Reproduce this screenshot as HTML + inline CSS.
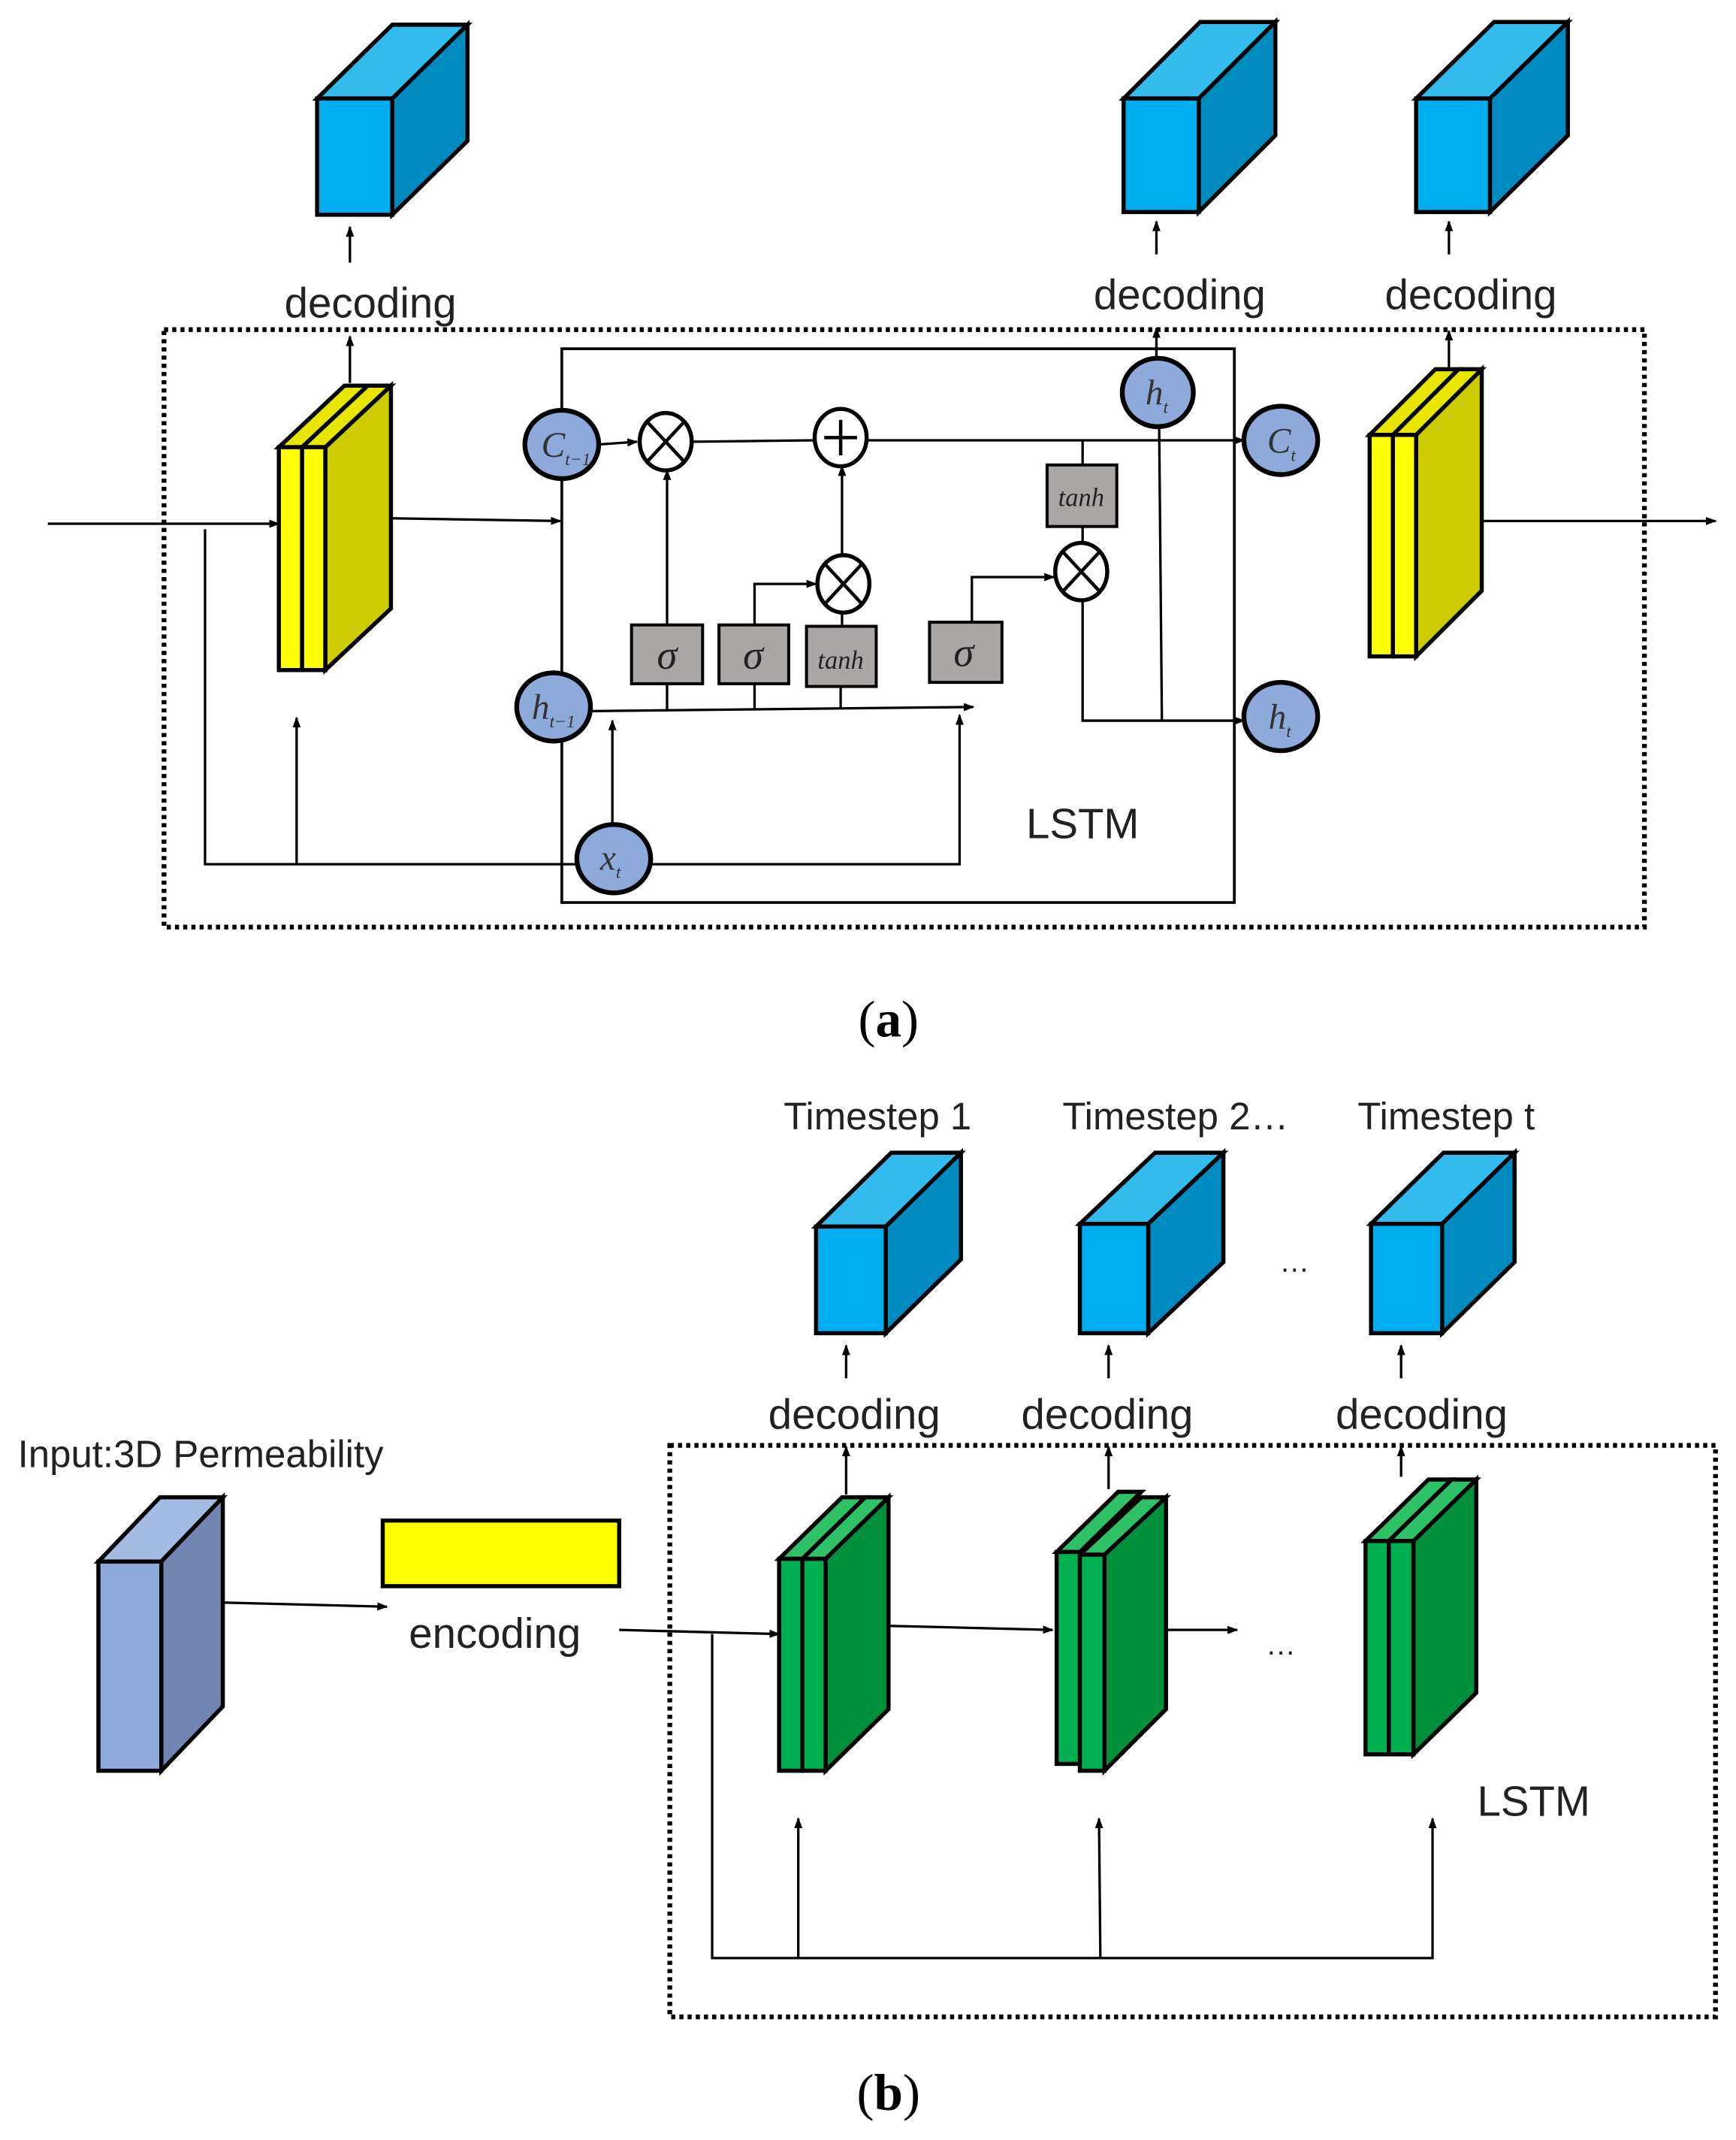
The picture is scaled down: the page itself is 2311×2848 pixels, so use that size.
<!DOCTYPE html>
<html><head><meta charset="utf-8"><style>html,body{margin:0;padding:0;background:#fff}svg{display:block}</style></head>
<body>
<svg width="2311" height="2848" viewBox="0 0 1270 1565" xmlns="http://www.w3.org/2000/svg" font-family="Liberation Sans, sans-serif">
<defs>
<marker id="ar" markerWidth="8" markerHeight="8" refX="7" refY="4" orient="auto" markerUnits="userSpaceOnUse"><path d="M0,1 L8,4 L0,7 z" fill="#000"/></marker>
</defs>
<rect width="1270" height="1565" fill="#fff"/>
<g stroke="#000" stroke-width="3" stroke-linejoin="miter">
<!-- cubes a -->
<polygon points="232,72 287,18 342,18 287,72" fill="#33bbee"/><polygon points="287,72 342,18 342,103 287,157" fill="#008bc0"/><rect x="232" y="72" width="55" height="85" fill="#00aeef"/>
<polygon points="822,72 878,16 933,16 877,72" fill="#33bbee"/><polygon points="877,72 933,16 933,99 877,155" fill="#008bc0"/><rect x="822" y="72" width="55" height="83" fill="#00aeef"/>
<polygon points="1036,72 1093,16 1147,16 1090,72" fill="#33bbee"/><polygon points="1090,72 1147,16 1147,99 1090,155" fill="#008bc0"/><rect x="1036" y="72" width="54" height="83" fill="#00aeef"/>
<!-- cubes b -->
<polygon points="597,897 652,843 703,843 648,897" fill="#33bbee"/><polygon points="648,897 703,843 703,921 648,975" fill="#008bc0"/><rect x="597" y="897" width="51" height="78" fill="#00aeef"/>
<polygon points="790,895 845,843 895,843 840,895" fill="#33bbee"/><polygon points="840,895 895,843 895,923 840,975" fill="#008bc0"/><rect x="790" y="895" width="50" height="80" fill="#00aeef"/>
<polygon points="1003,895 1056,843 1108,843 1055,895" fill="#33bbee"/><polygon points="1055,895 1108,843 1108,923 1055,975" fill="#008bc0"/><rect x="1003" y="895" width="52" height="80" fill="#00aeef"/>
<!-- input cube -->
<polygon points="72,1142 117,1095 163,1095 118,1142" fill="#a4bbe4"/><polygon points="118,1142 163,1095 163,1248 118,1295" fill="#7086b0"/><rect x="72" y="1142" width="46" height="153" fill="#8eaadb"/>
<!-- yellow a1 -->
<polygon points="238,327 286,282 286,445 238,490" fill="#cccc00"/>
<polygon points="204,327 252,282 269,282 221,327" fill="#e6e600"/><polygon points="221,327 269,282 286,282 238,327" fill="#e6e600"/>
<rect x="204" y="327" width="17" height="163" fill="#ffff00"/><rect x="221" y="327" width="17" height="163" fill="#ffff00"/>
<!-- yellow a2 -->
<polygon points="1036,318 1084,270 1084,432 1036,480" fill="#cccc00"/>
<polygon points="1002,318 1050,270 1067,270 1019,318" fill="#e6e600"/><polygon points="1019,318 1067,270 1084,270 1036,318" fill="#e6e600"/>
<rect x="1002" y="318" width="17" height="162" fill="#ffff00"/><rect x="1019" y="318" width="17" height="162" fill="#ffff00"/>
<!-- green b1 -->
<polygon points="604,1140 650,1095 650,1250 604,1295" fill="#00903c"/>
<polygon points="570,1140 616,1095 633,1095 587,1140" fill="#2ec167"/><polygon points="587,1140 633,1095 650,1095 604,1140" fill="#2ec167"/>
<rect x="570" y="1140" width="17" height="155" fill="#00b050"/><rect x="587" y="1140" width="17" height="155" fill="#00b050"/>
<!-- green b2 -->
<polygon points="808,1137 853,1095 853,1250 808,1295" fill="#00903c"/>
<polygon points="773,1135 818,1091 835,1091 790,1135" fill="#2ec167"/><polygon points="790,1137 835,1095 853,1095 808,1137" fill="#2ec167"/>
<rect x="773" y="1135" width="17" height="155" fill="#00b050"/><rect x="790" y="1137" width="18" height="158" fill="#00b050"/>
<!-- green b3 -->
<polygon points="1034,1127 1080,1082 1080,1238 1034,1283" fill="#00903c"/>
<polygon points="999,1127 1045,1082 1062,1082 1016,1127" fill="#2ec167"/><polygon points="1016,1127 1062,1082 1080,1082 1034,1127" fill="#2ec167"/>
<rect x="999" y="1127" width="17" height="156" fill="#00b050"/><rect x="1016" y="1127" width="18" height="156" fill="#00b050"/>
<!-- yellow encoding rect -->
<rect x="280" y="1112" width="173" height="48" fill="#ffff00"/>
</g>
<!-- dotted boxes -->
<rect x="120" y="241" width="1083" height="437" fill="none" stroke="#000" stroke-width="3.5" stroke-dasharray="3,3"/>
<rect x="490" y="1057" width="765" height="418" fill="none" stroke="#000" stroke-width="3.5" stroke-dasharray="3,3"/>
<!-- LSTM box -->
<rect x="411" y="255" width="492" height="405" fill="none" stroke="#000" stroke-width="2"/>
<!-- connectors a -->
<g stroke="#000" stroke-width="1.8" fill="none">
<line x1="35" y1="383" x2="204" y2="383" marker-end="url(#ar)"/>
<line x1="286" y1="379" x2="410" y2="381" marker-end="url(#ar)"/>
<polyline points="150,387 150,632 702,632 702,523" marker-end="url(#ar)"/>
<line x1="217" y1="632" x2="217" y2="525" marker-end="url(#ar)"/>
<line x1="448" y1="605" x2="448" y2="527" marker-end="url(#ar)"/>
<line x1="432" y1="520" x2="712" y2="517" marker-end="url(#ar)"/>
<line x1="488" y1="500" x2="488" y2="519"/><line x1="552" y1="500" x2="552" y2="519"/><line x1="615" y1="502" x2="615" y2="518"/>
<line x1="438" y1="325" x2="466" y2="323" marker-end="url(#ar)"/>
<line x1="507" y1="323" x2="595" y2="322"/>
<line x1="635" y1="322" x2="910" y2="322" marker-end="url(#ar)"/>
<line x1="488" y1="457" x2="488" y2="344" marker-end="url(#ar)"/>
<polyline points="552,457 552,427 597,427" marker-end="url(#ar)"/>
<line x1="616" y1="458" x2="616" y2="448"/>
<line x1="616" y1="407" x2="616" y2="341" marker-end="url(#ar)"/>
<polyline points="711,455 711,422 771,422" marker-end="url(#ar)"/>
<line x1="792" y1="322" x2="792" y2="340"/>
<line x1="792" y1="385" x2="792" y2="398"/>
<polyline points="792,438 792,527 910,527" marker-end="url(#ar)"/>
<line x1="848" y1="311" x2="850" y2="527"/>
<line x1="846" y1="263" x2="846" y2="240" marker-end="url(#ar)"/>
<line x1="256" y1="280" x2="256" y2="246" marker-end="url(#ar)"/>
<line x1="1060" y1="270" x2="1060" y2="242" marker-end="url(#ar)"/>
<line x1="1084" y1="381" x2="1255" y2="381" marker-end="url(#ar)"/>
<line x1="256" y1="192" x2="256" y2="166" marker-end="url(#ar)"/>
<line x1="846" y1="186" x2="846" y2="162" marker-end="url(#ar)"/>
<line x1="1060" y1="186" x2="1060" y2="162" marker-end="url(#ar)"/>
<!-- b -->
<line x1="619" y1="1008" x2="619" y2="984" marker-end="url(#ar)"/>
<line x1="811" y1="1008" x2="811" y2="984" marker-end="url(#ar)"/>
<line x1="1025" y1="1008" x2="1025" y2="984" marker-end="url(#ar)"/>
<line x1="619" y1="1093" x2="619" y2="1058" marker-end="url(#ar)"/>
<line x1="811" y1="1089" x2="811" y2="1058" marker-end="url(#ar)"/>
<line x1="1025" y1="1080" x2="1025" y2="1058" marker-end="url(#ar)"/>
<line x1="163" y1="1172" x2="283" y2="1175" marker-end="url(#ar)"/>
<line x1="453" y1="1192" x2="570" y2="1195" marker-end="url(#ar)"/>
<line x1="650" y1="1189" x2="770" y2="1192" marker-end="url(#ar)"/>
<line x1="853" y1="1192" x2="905" y2="1192" marker-end="url(#ar)"/>
<polyline points="521,1195 521,1432 1048,1432 1048,1330" marker-end="url(#ar)"/>
<line x1="584" y1="1432" x2="584" y2="1330" marker-end="url(#ar)"/>
<line x1="805" y1="1432" x2="804" y2="1330" marker-end="url(#ar)"/>
</g>
<!-- gray boxes -->
<g fill="#a9a6a5" stroke="#000" stroke-width="2.2">
<rect x="462" y="457" width="52" height="43"/><rect x="526" y="457" width="51" height="43"/><rect x="590" y="458" width="51" height="44"/><rect x="680" y="455" width="53" height="44"/><rect x="766" y="340" width="51" height="45"/>
</g>
<g font-family="Liberation Serif, serif" font-style="italic" text-anchor="middle" fill="#222">
<text x="488" y="489" font-size="30">σ</text><text x="551" y="489" font-size="30">σ</text><text x="705" y="487" font-size="30">σ</text>
<text x="615" y="489" font-size="19">tanh</text><text x="791" y="370" font-size="19">tanh</text>
</g>
<!-- operator circles -->
<g fill="#fff" stroke="#000" stroke-width="3">
<ellipse cx="487" cy="323" rx="19" ry="21"/><ellipse cx="615" cy="320" rx="19" ry="21"/><ellipse cx="617" cy="427" rx="19" ry="21"/><ellipse cx="791" cy="418" rx="19" ry="21"/>
</g>
<g stroke="#000" stroke-width="2.5">
<line x1="474" y1="309" x2="500" y2="337"/><line x1="500" y1="309" x2="474" y2="337"/>
<line x1="604" y1="441" x2="630" y2="413"/><line x1="604" y1="413" x2="630" y2="441"/>
<line x1="778" y1="404" x2="804" y2="432"/><line x1="778" y1="432" x2="804" y2="404"/>
<line x1="603" y1="320" x2="627" y2="320"/><line x1="615" y1="307" x2="615" y2="333"/>
</g>
<!-- blue state circles -->
<g fill="#8eaadb" stroke="#000" stroke-width="3.5">
<ellipse cx="411" cy="325" rx="27" ry="25"/><ellipse cx="847" cy="287" rx="26" ry="25"/><ellipse cx="937" cy="322" rx="27" ry="25"/>
<ellipse cx="405" cy="517" rx="27" ry="25"/><ellipse cx="937" cy="524" rx="27" ry="25"/><ellipse cx="449" cy="628" rx="27" ry="25"/>
</g>
<g font-family="Liberation Serif, serif" font-style="italic" fill="#333">
<text x="396" y="334" font-size="26">C<tspan font-size="13" dy="6">t−1</tspan></text>
<text x="838" y="296" font-size="26">h<tspan font-size="13" dy="6">t</tspan></text>
<text x="927" y="331" font-size="26">C<tspan font-size="13" dy="6">t</tspan></text>
<text x="389" y="526" font-size="26">h<tspan font-size="13" dy="6">t−1</tspan></text>
<text x="928" y="533" font-size="26">h<tspan font-size="13" dy="6">t</tspan></text>
<text x="439" y="636" font-size="26">x<tspan font-size="13" dy="6">t</tspan></text>
</g>
<!-- labels -->
<g fill="#222" text-anchor="middle" font-size="31">
<text x="271" y="232">decoding</text><text x="863" y="226">decoding</text><text x="1076" y="226">decoding</text>
<text x="792" y="613">LSTM</text>
<text x="625" y="1045">decoding</text><text x="810" y="1045">decoding</text><text x="1040" y="1045">decoding</text>
<text x="362" y="1205">encoding</text>
<text x="1122" y="1328">LSTM</text>
<text x="642" y="826" font-size="28">Timestep 1</text><text x="860" y="826" font-size="28">Timestep 2…</text><text x="1058" y="826" font-size="28">Timestep t</text>
<text x="947" y="930" font-size="22">…</text><text x="937" y="1210" font-size="22">…</text>
</g>
<text x="13" y="1073" font-size="28" fill="#222">Input:3D Permeability</text>
<g font-family="Liberation Serif, serif" font-size="38" text-anchor="middle" fill="#000">
<text x="650" y="758">(<tspan font-weight="bold">a</tspan>)</text>
<text x="650" y="1543">(<tspan font-weight="bold">b</tspan>)</text>
</g>
</svg>
</body></html>
